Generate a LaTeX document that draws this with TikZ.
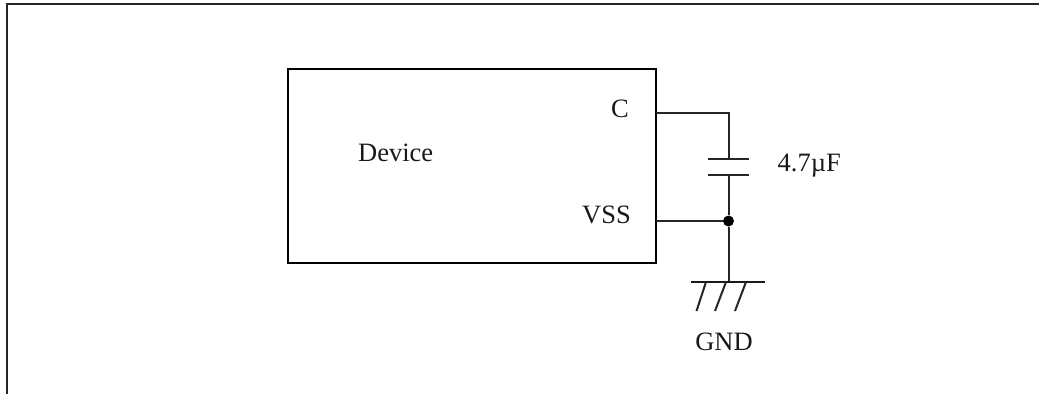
\documentclass[tikz,border=0pt]{standalone}
\usepackage{fontspec}
\setmainfont{Liberation Serif}
\tikzset{
  wire/.style={draw=black!85,line width=2pt},
  thick wire/.style={draw=black!90,line width=2.4pt},
  label text/.style={inner sep=0pt,text=black!90,font=\fontsize{26.5}{26.5}\selectfont},
}
\begin{document}
\begin{tikzpicture}[x=1pt,y=-1pt]
\useasboundingbox (0,0) rectangle (1039,394);
\coordinate (fa) at (6.5,394);
\coordinate (fb) at (6.5,4);
\coordinate (fc) at (1039,4);
\draw[wire] (fa) -- (fb) -- (fc);
\node[draw=black,line width=2.4pt,outer sep=0pt,minimum width=368pt,minimum height=194pt,inner sep=0pt,anchor=north west] (dev) at (288,69) {};
\coordinate (cpin) at (656,113);
\coordinate (vpin) at (656,221);
\coordinate (ccor) at (728.5,113);
\coordinate (ptop) at (728.5,159);
\coordinate (pbot) at (728.5,175);
\coordinate (gtop) at (728.5,282);
\coordinate (pta) at (708,159);
\coordinate (ptb) at (749,159);
\coordinate (pba) at (708,175);
\coordinate (pbb) at (749,175);
\coordinate (ga) at (691,282);
\coordinate (gb) at (765,282);
\node[circle,fill=black,inner sep=0pt,minimum size=11pt] (jct) at (728.5,221) {};
\draw[wire] (cpin) -- (ccor) -- (ptop);
\draw[wire] (pbot) -- (jct);
\draw[wire] (vpin) -- (jct);
\draw[wire] (jct) -- (gtop);
\draw[wire] (pta) -- (ptb);
\draw[wire] (pba) -- (pbb);
\draw[thick wire] (ga) -- (gb);
\coordinate (h1a) at (706,282); \coordinate (h1b) at (696.5,311);
\coordinate (h2a) at (726,282); \coordinate (h2b) at (715,311);
\coordinate (h3a) at (746,282); \coordinate (h3b) at (735,311);
\draw[wire] (h1a) -- (h1b);
\draw[wire] (h2a) -- (h2b);
\draw[wire] (h3a) -- (h3b);
\node[label text,anchor=base west] (tdev) at (358,161) {Device};
\node[label text,anchor=base east] (tc) at (629,117.5) {C};
\node[label text,anchor=base east] (tvss) at (631,223.5) {VSS};
\node[label text,anchor=base west] (tcap) at (777.5,171) {4.7µF};
\node[label text,anchor=base] (tgnd) at (724,350) {GND};
\end{tikzpicture}
\end{document}
